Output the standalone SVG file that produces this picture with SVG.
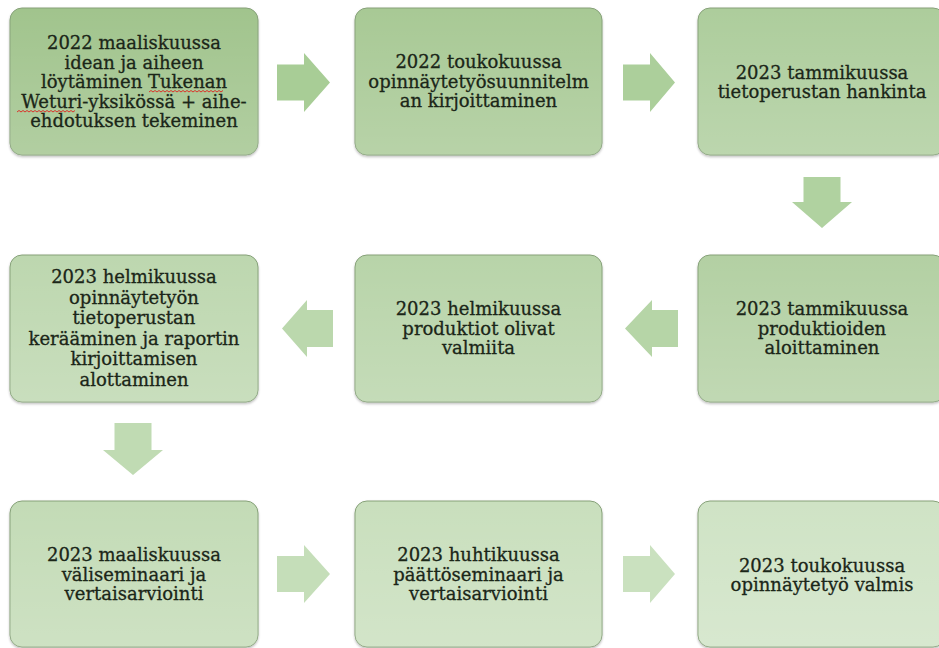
<svg xmlns="http://www.w3.org/2000/svg" width="939" height="648" viewBox="0 0 939 648">
  <style>
    .box { stroke: #86a179; stroke-width: 1; filter: url(#sh); }
    .sheen { fill: url(#sheen); stroke: none; }
    .lbl { font-family: "DejaVu Serif", "Liberation Serif", serif; font-size: 18px; fill: #1b2618; stroke: #1b2618; stroke-width: 0.3; text-anchor: middle; }
    .arr { stroke: none; }
    .squig { fill: none; stroke: #d9342b; stroke-width: 1; }
  </style>
  <defs>
    <linearGradient id="sheen" x1="0" y1="0" x2="0" y2="1">
      <stop offset="0" stop-color="#ffffff" stop-opacity="0"/>
      <stop offset="1" stop-color="#ffffff" stop-opacity="0.18"/>
    </linearGradient>
    <filter id="sh" x="-5%" y="-5%" width="110%" height="115%">
      <feDropShadow dx="0" dy="1.5" stdDeviation="1.2" flood-color="#000000" flood-opacity="0.25"/>
    </filter>
  </defs>
  <rect width="939" height="648" fill="#ffffff"/>

  <g id="connectors">
    <polygon class="arr" fill="#a8cd96" points="277,64.5 304,64.5 304,53 330,82.5 304,112 304,100.5 277,100.5"/>
    <polygon class="arr" fill="#accf9b" points="623,64.5 650,64.5 650,53 675,82.5 650,112 650,100.5 623,100.5"/>
    <polygon class="arr" fill="#b0d2a0" points="803.5,177 840.5,177 840.5,202 852,202 822,228 792,202 803.5,202"/>
    <polygon class="arr" fill="#b6d5a7" points="678,310 652,310 652,300 625,328.5 652,357 652,347 678,347"/>
    <polygon class="arr" fill="#bbd8ad" points="333,310 307,310 307,300 282,328.5 307,357 307,347 333,347"/>
    <polygon class="arr" fill="#c0dbb3" points="114.5,423 151.5,423 151.5,450 163,450 133,475 103,450 114.5,450"/>
    <polygon class="arr" fill="#c5deb9" points="277,556 304,556 304,545 330,574 304,603 304,592 277,592"/>
    <polygon class="arr" fill="#cae1bf" points="623,556 650,556 650,545 675,574 650,603 650,592 623,592"/>
  </g>

  <g id="n1">
    <rect class="box" x="10" y="8" width="248" height="147" rx="12" fill="#a1c48d"/>
    <rect class="sheen" x="10" y="8" width="248" height="147" rx="12"/>
    <text class="lbl" x="134" y="49">2022 maaliskuussa</text>
    <text class="lbl" x="134" y="68.5">idean ja aiheen</text>
    <text class="lbl" x="134" y="88">löytäminen Tukenan</text>
    <text class="lbl" x="134" y="107.5">Weturi-yksikössä + aihe-</text>
    <text class="lbl" x="134" y="127">ehdotuksen tekeminen</text>
    <path class="squig" d="M149,92 l2,-1.5 l2,1.5 l2,-1.5 l2,1.5 l2,-1.5 l2,1.5 l2,-1.5 l2,1.5 l2,-1.5 l2,1.5 l2,-1.5 l2,1.5 l2,-1.5 l2,1.5 l2,-1.5 l2,1.5 l2,-1.5 l2,1.5 l2,-1.5 l2,1.5 l2,-1.5 l2,1.5 l2,-1.5 l2,1.5 l2,-1.5 l2,1.5 l2,-1.5 l2,1.5 l2,-1.5 l2,1.5 l2,-1.5 l2,1.5 l2,-1.5 l2,1.5 l2,-1.5 l2,1.5 l2,-1.5"/>
    <path class="squig" d="M17,112 l2,-1.5 l2,1.5 l2,-1.5 l2,1.5 l2,-1.5 l2,1.5 l2,-1.5 l2,1.5 l2,-1.5 l2,1.5 l2,-1.5 l2,1.5 l2,-1.5 l2,1.5 l2,-1.5 l2,1.5 l2,-1.5 l2,1.5 l2,-1.5 l2,1.5 l2,-1.5 l2,1.5 l2,-1.5 l2,1.5 l2,-1.5 l2,1.5 l2,-1.5 l2,1.5 l2,-1.5"/>
  </g>

  <g id="n2">
    <rect class="box" x="355" y="8" width="247" height="147" rx="12" fill="#a8c995"/>
    <rect class="sheen" x="355" y="8" width="247" height="147" rx="12"/>
    <text class="lbl" x="478.5" y="68">2022 toukokuussa</text>
    <text class="lbl" x="478.5" y="87.5">opinnäytetyösuunnitelm</text>
    <text class="lbl" x="478.5" y="107">an kirjoittaminen</text>
  </g>

  <g id="n3">
    <rect class="box" x="698" y="8" width="247" height="147" rx="12" fill="#adcd9c"/>
    <rect class="sheen" x="698" y="8" width="247" height="147" rx="12"/>
    <text class="lbl" x="822" y="79">2023 tammikuussa</text>
    <text class="lbl" x="822" y="98">tietoperustan hankinta</text>
  </g>

  <g id="n4">
    <rect class="box" x="698" y="255" width="247" height="147" rx="12" fill="#b3d0a3"/>
    <rect class="sheen" x="698" y="255" width="247" height="147" rx="12"/>
    <text class="lbl" x="822" y="315">2023 tammikuussa</text>
    <text class="lbl" x="822" y="334.5">produktioiden</text>
    <text class="lbl" x="822" y="354">aloittaminen</text>
  </g>

  <g id="n5">
    <rect class="box" x="355" y="255" width="247" height="147" rx="12" fill="#b8d4a9"/>
    <rect class="sheen" x="355" y="255" width="247" height="147" rx="12"/>
    <text class="lbl" x="478.5" y="315">2023 helmikuussa</text>
    <text class="lbl" x="478.5" y="334.5">produktiot olivat</text>
    <text class="lbl" x="478.5" y="354">valmiita</text>
  </g>

  <g id="n6">
    <rect class="box" x="10" y="255" width="248" height="147" rx="12" fill="#bdd7af"/>
    <rect class="sheen" x="10" y="255" width="248" height="147" rx="12"/>
    <text class="lbl" x="134" y="283">2023 helmikuussa</text>
    <text class="lbl" x="134" y="303.5">opinnäytetyön</text>
    <text class="lbl" x="134" y="324">tietoperustan</text>
    <text class="lbl" x="134" y="344.5">kerääminen ja raportin</text>
    <text class="lbl" x="134" y="365">kirjoittamisen</text>
    <text class="lbl" x="134" y="385.5">alottaminen</text>
  </g>

  <g id="n7">
    <rect class="box" x="10" y="501" width="248" height="146" rx="12" fill="#c3dbb6"/>
    <rect class="sheen" x="10" y="501" width="248" height="146" rx="12"/>
    <text class="lbl" x="134" y="561">2023 maaliskuussa</text>
    <text class="lbl" x="134" y="580.5">väliseminaari ja</text>
    <text class="lbl" x="134" y="600">vertaisarviointi</text>
  </g>

  <g id="n8">
    <rect class="box" x="355" y="501" width="247" height="146" rx="12" fill="#c9dfbd"/>
    <rect class="sheen" x="355" y="501" width="247" height="146" rx="12"/>
    <text class="lbl" x="478.5" y="561">2023 huhtikuussa</text>
    <text class="lbl" x="478.5" y="580.5">päättöseminaari ja</text>
    <text class="lbl" x="478.5" y="600">vertaisarviointi</text>
  </g>

  <g id="n9">
    <rect class="box" x="698" y="501" width="247" height="146" rx="12" fill="#cfe3c5"/>
    <rect class="sheen" x="698" y="501" width="247" height="146" rx="12"/>
    <text class="lbl" x="822" y="572">2023 toukokuussa</text>
    <text class="lbl" x="822" y="591">opinnäytetyö valmis</text>
  </g>
</svg>
